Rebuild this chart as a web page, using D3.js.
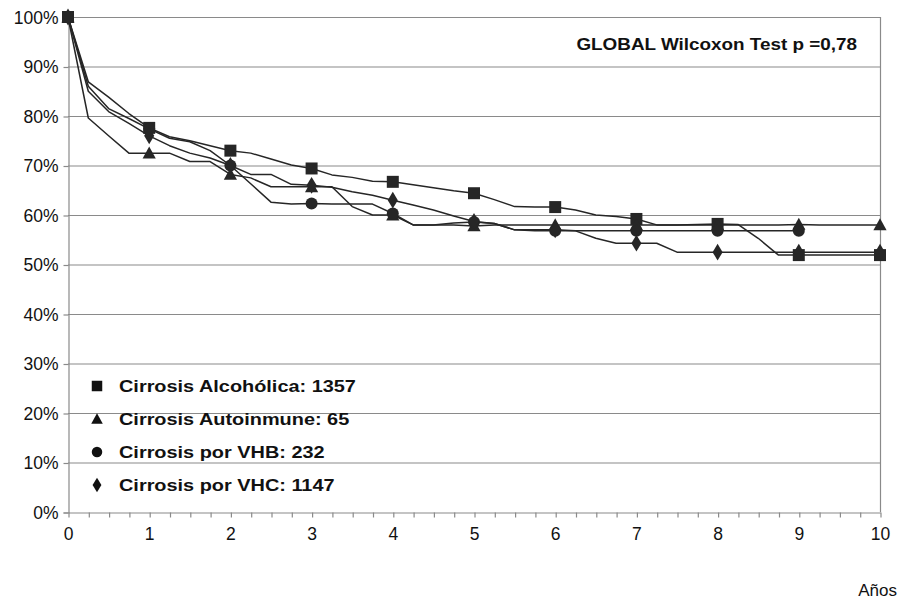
<!DOCTYPE html>
<html><head><meta charset="utf-8">
<script src="https://cdn.jsdelivr.net/npm/d3@7"></script>
<style>body{margin:0;background:#fff}svg{display:block}text{font-family:"Liberation Sans",Arial,sans-serif}</style>
</head><body><div id="chart"></div>
<script>
// time points every quarter year
const years = d3.range(0, 10.001, 0.25);
const yTicks = [0,10,20,30,40,50,60,70,80,90,100];
const xTicks = [0,1,2,3,4,5,6,7,8,9,10];

const alcoholica = [100,86.9,83.8,80.5,77.6,75.8,75,74,73,72.5,71.3,70.1,69.4,68.1,67.6,66.8,66.7,66.1,65.5,64.9,64.4,63.1,61.7,61.6,61.6,61,60,59.7,59.2,58,58,58.1,58.2,58.1,55.3,51.9,51.9,51.9,51.9,51.9,51.9];
const autoinmune = [100,79.6,76,72.5,72.5,72.5,70.8,70.8,68.2,67.5,65.7,65.7,65.7,65.7,61.7,60,60,58,58,58,57.8,58,58,58,58,58,58,58,58,58,58,58,58,58,58,58,58.1,58,58,58,58];
const vhb = [100,86,81.5,79.5,77.4,75.5,74.8,73,70,66.3,62.6,62.2,62.3,62.2,62.2,62.2,60.3,58,58,58.4,58.6,58.3,57,56.8,56.8,56.8,56.8,56.8,56.8,56.8,56.8,56.8,56.8,56.8,56.8,56.8,56.8];
const vhc = [100,85,80.9,78.5,76,74,72.5,71.5,70,68.2,68.2,66.2,66,65.6,64.7,64,63,62,61,59.8,58.7,58.3,57,57,57,56.8,55.3,54.3,54.3,54.3,52.5,52.5,52.5,52.5,52.5,52.5,52.5,52.5,52.5,52.5,52.5];

const seriesNames = ["Cirrosis Alcohólica: 1357","Cirrosis Autoinmune: 65","Cirrosis por VHB: 232","Cirrosis por VHC: 1147"];
const seriesData = [alcoholica, autoinmune, vhb, vhc];
const seriesSymbols = ["square","triangle","circle","diamond"];
const testLabel = "GLOBAL Wilcoxon Test p =0,78";
const xTitle = "Años";

const W = 898, H = 599;
const m = {left:68, right:18, top:17, bottom:87};
const svg = d3.select("#chart").append("svg").attr("width",W).attr("height",H);
const x = d3.scaleLinear().domain([0,10]).range([m.left, W-m.right]);
const y = d3.scaleLinear().domain([0,100]).range([H-m.bottom, m.top]);
const ink = "#262626", grid = "#8a8a8a";

// gridlines
svg.append("g").selectAll("line").data(yTicks.filter(d=>d>0)).join("line")
  .attr("x1",x(0)).attr("x2",x(10)).attr("y1",d=>y(d)+0.5).attr("y2",d=>y(d)+0.5)
  .attr("stroke",grid).attr("stroke-width",1.2);
// right border
svg.append("line").attr("x1",x(10)+0.5).attr("x2",x(10)+0.5).attr("y1",y(100)).attr("y2",y(0))
  .attr("stroke",grid).attr("stroke-width",1.2);

// y axis
const yAxis = d3.axisLeft(y).tickValues(yTicks).tickFormat(d=>d+"%").tickSize(5).tickPadding(5);
const gy = svg.append("g").attr("transform",`translate(${x(0)+0.5},0.5)`).call(yAxis);
gy.selectAll("path,line").attr("stroke",grid).attr("stroke-width",1.2);
gy.selectAll("text").attr("font-size",17.5).attr("fill","#111");

// x axis
const xAxisMinor = d3.axisBottom(x).tickValues(years).tickFormat("").tickSize(5).tickSizeOuter(0);
const gx = svg.append("g").attr("transform",`translate(0.5,${y(0)+0.5})`).call(xAxisMinor);
gx.selectAll("path,line").attr("stroke",grid).attr("stroke-width",1.2);
const gxl = svg.append("g").attr("transform",`translate(0,${y(0)})`)
  .call(d3.axisBottom(x).tickValues(xTicks).tickFormat(d3.format("d")).tickSize(0).tickPadding(16));
gxl.select(".domain").remove();
gxl.selectAll("text").attr("font-size",17.5).attr("fill","#111");

svg.append("text").attr("x",897).attr("y",596).attr("text-anchor","end")
  .attr("font-size",17).attr("fill","#111").text(xTitle);

// lines
const line = d3.line().x((d,i)=>x(years[i])).y(d=>y(d));
seriesData.forEach(s=>{
  svg.append("path").datum(s).attr("d",line).attr("fill","none")
    .attr("stroke",ink).attr("stroke-width",1.5).attr("stroke-linejoin","round");
});

function symbolPath(type, s){
  if(type==="square") return d3.symbol(d3.symbolSquare, s*s)();
  if(type==="circle") return d3.symbol(d3.symbolCircle, Math.PI*(s/2)*(s/2))();
  if(type==="triangle"){ const h=s; return `M0,${-h*0.55}L${s*0.55},${h*0.45}L${-s*0.55},${h*0.45}Z`; }
  if(type==="diamond"){ return `M0,${-s*0.7}L${s*0.42},0L0,${s*0.7}L${-s*0.42},0Z`; }
}
// markers at integer years
seriesData.forEach((s,k)=>{
  const pts = s.map((v,i)=>({t:years[i],v})).filter(p=>Math.abs(p.t-Math.round(p.t))<1e-9);
  svg.append("g").selectAll("path").data(pts).join("path")
    .attr("transform",p=>`translate(${x(p.t)},${y(p.v)})`)
    .attr("d",symbolPath(seriesSymbols[k],12)).attr("fill",ink);
});

// legend
const lg = svg.append("g");
const rowsY = [386,419,452,485];
seriesNames.forEach((n,k)=>{
  lg.append("path").attr("transform",`translate(97,${rowsY[k]})`)
    .attr("d",symbolPath(seriesSymbols[k],10.5)).attr("fill","#111");
  lg.append("text").attr("transform",`translate(119,${rowsY[k]+6}) scale(1.17,1)`)
    .attr("font-size",17).attr("font-weight","bold").attr("fill","#111").text(n);
});
svg.append("text").attr("transform","translate(857,50) scale(1.18,1)").attr("text-anchor","end")
  .attr("font-size",16).attr("font-weight","bold").attr("fill","#111").text(testLabel);
</script></body></html>
